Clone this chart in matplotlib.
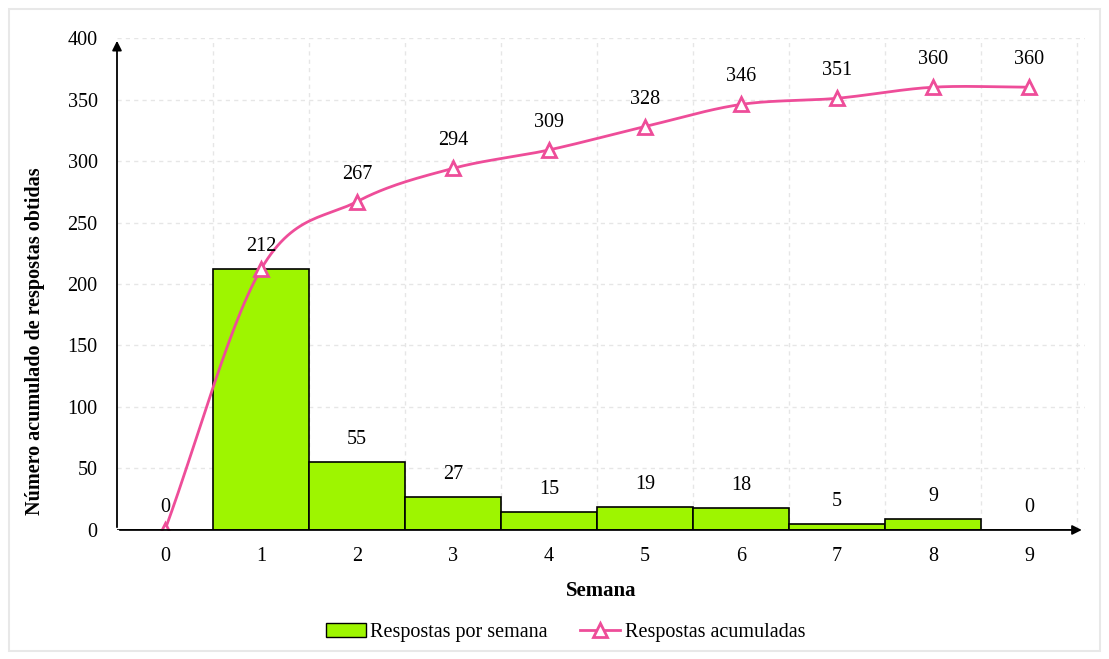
import numpy as np
import matplotlib.pyplot as plt
from matplotlib.lines import Line2D
from matplotlib.patches import Patch, Rectangle

plt.rcParams['font.family'] = ['Liberation Serif', 'DejaVu Serif']

# weekly survey responses
semanas = [0, 1, 2, 3, 4, 5, 6, 7, 8, 9]
por_semana = [0, 212, 55, 27, 15, 19, 18, 5, 9, 0]
acumuladas = [0, 212, 267, 294, 309, 328, 346, 351, 360, 360]

bar_color = '#9EF500'
line_color = '#EE4D99'


def catmull_rom(xs, ys, n=30):
    # smooth curve through every point, like a spreadsheet "smoothed line"
    px = np.concatenate([[2 * xs[0] - xs[1]], xs, [2 * xs[-1] - xs[-2]]])
    py = np.concatenate([[2 * ys[0] - ys[1]], ys, [2 * ys[-1] - ys[-2]]])
    out_x, out_y = [], []
    t = np.linspace(0, 1, n)
    for i in range(1, len(px) - 2):
        for p, out in ((px, out_x), (py, out_y)):
            p0, p1, p2, p3 = p[i - 1], p[i], p[i + 1], p[i + 2]
            out.extend(0.5 * ((2 * p1) + (-p0 + p2) * t
                              + (2 * p0 - 5 * p1 + 4 * p2 - p3) * t ** 2
                              + (-p0 + 3 * p1 - 3 * p2 + p3) * t ** 3))
    return np.array(out_x), np.array(out_y)


fig = plt.figure(figsize=(11.09, 6.59), dpi=100)
ax = fig.add_axes([0.1055, 0.1958, 0.8725, 0.7465])

x = np.array(semanas, dtype=float)
ax.bar(x, por_semana, width=1.0, color=bar_color, edgecolor='black',
       linewidth=1.2, zorder=2)

sx, sy = catmull_rom(x, np.array(acumuladas, dtype=float))
ax.plot(sx, sy, color=line_color, lw=2, zorder=3)
ax.plot(x, acumuladas, ls='none', marker='^', ms=10, mfc='white',
        mec=line_color, mew=2, zorder=4)

fs = 14.5
for xi, v in zip(x, por_semana):
    ax.annotate(str(v), (xi, v), xytext=(0, 13), textcoords='offset pixels',
                ha='center', va='bottom', fontsize=fs)
for xi, v in zip(x[2:], acumuladas[2:]):
    ax.annotate(str(v), (xi, v), xytext=(0, 18), textcoords='offset pixels',
                ha='center', va='bottom', fontsize=fs)

ax.set_xlim(-0.5, 9.58)
ax.set_ylim(0, 400)
ax.set_xticks(semanas)
ax.set_yticks(range(0, 401, 50))
ax.set_xticks(np.arange(0.5, 9.6, 1.0), minor=True)
ax.tick_params(axis='both', which='both', length=0, labelsize=fs)
ax.tick_params(axis='x', pad=12)
ax.tick_params(axis='y', pad=14)
ax.grid(axis='y', which='major', ls=(0, (3, 3)), color='#E6E6E6', lw=1, zorder=0)
ax.grid(axis='x', which='minor', ls=(0, (3, 3)), color='#E6E6E6', lw=1, zorder=0)
ax.set_axisbelow(True)

for s in ax.spines.values():
    s.set_visible(False)
arrow = dict(arrowstyle='-|>', color='black', lw=1.3, mutation_scale=14)
ax.annotate('', xy=(0, 1.0), xytext=(0, 0), xycoords='axes fraction',
            arrowprops=arrow, zorder=5)
ax.annotate('', xy=(1.0, 0), xytext=(0, 0), xycoords='axes fraction',
            arrowprops=arrow, zorder=5)

ax.set_xlabel('Semana', fontsize=15, fontweight='bold', labelpad=11)
fig.text(35 / 1109, 1 - 341 / 659, 'Número acumulado de respostas obtidas',
         rotation=90, ha='center', va='center', fontsize=14.5,
         fontweight='bold')

handles = [Patch(facecolor=bar_color, edgecolor='black'),
           Line2D([], [], color=line_color, lw=2, marker='^', ms=10,
                  mfc='white', mec=line_color, mew=2)]
fig.legend(handles, ['Respostas por semana', 'Respostas acumuladas'],
           loc='center', bbox_to_anchor=(0.51, 0.04), ncol=2, frameon=False,
           fontsize=fs, handlelength=2.0, handletextpad=0.2, columnspacing=1.6)

fig.patches.append(Rectangle((0.008, 0.012), 0.984, 0.975,
                             transform=fig.transFigure, fill=False,
                             edgecolor='#E8E8E8', lw=1.5))

fig.savefig('out.png', dpi=100)
